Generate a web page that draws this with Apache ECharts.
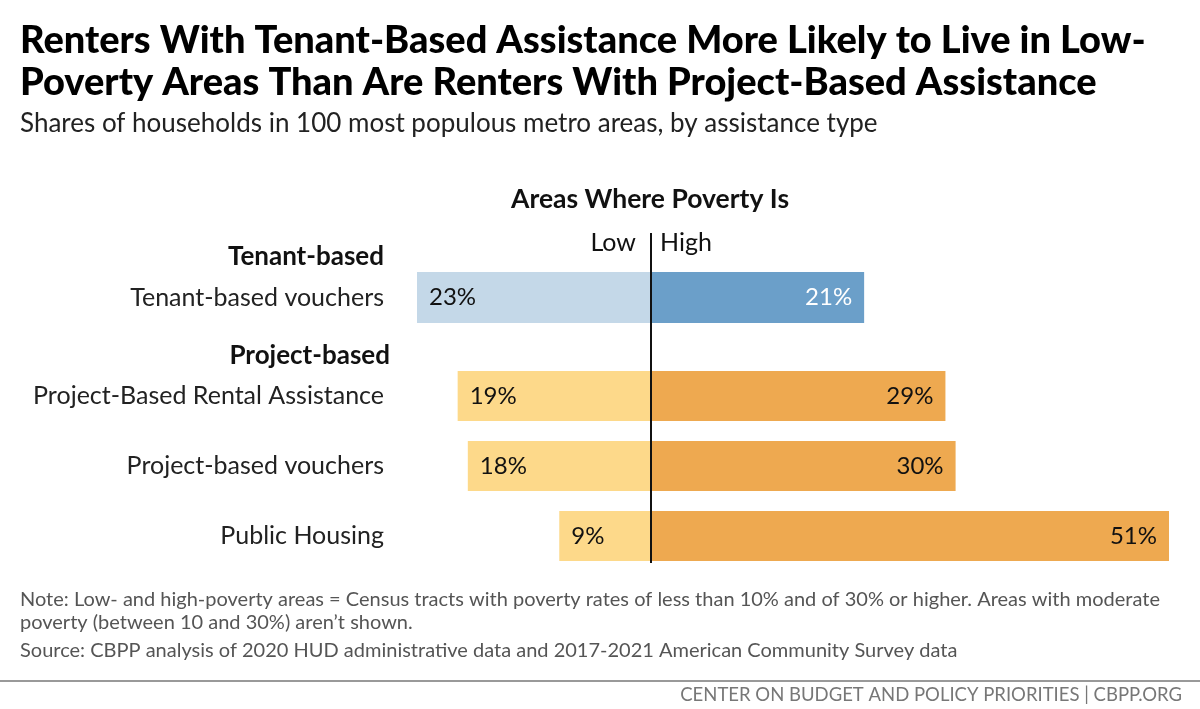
<!DOCTYPE html><html><head><meta charset="utf-8">
<script src="https://cdn.jsdelivr.net/npm/echarts@6/dist/echarts.min.js"></script>
<style>body{margin:0;background:#fff}#c{width:1200px;height:709px}</style></head><body><div id="c"></div>
<script>
const tenantCats=["Tenant-based vouchers"];
const tenantLow=[23], tenantHigh=[21];
const projCats=["Project-Based Rental Assistance","Project-based vouchers","Public Housing"];
const projLow=[19,18,9], projHigh=[29,30,51];
const F='Lato, "Open Sans", sans-serif';
const ch=echarts.init(document.getElementById('c'));
const xa=(i)=>({type:'value',gridIndex:i,min:-23,max:51,show:false});
const ya=(i,d)=>({type:'category',gridIndex:i,data:d,inverse:true,axisLine:{show:false},axisTick:{show:false},
  axisLabel:{margin:33,fontSize:25,color:'#222',fontFamily:F}});
const lab=(pos,col)=>({show:true,position:pos,fontSize:24,color:col,fontFamily:F,distance:12,formatter:p=>Math.abs(p.value)+'%'});
ch.setOption({
 animation:false,
 grid:[{left:417,width:752,top:272,height:51},{left:417,width:752,top:361,height:210}],
 xAxis:[xa(0),xa(1)], yAxis:[ya(0,tenantCats),ya(1,projCats)],
 series:[
  {type:'bar',xAxisIndex:0,yAxisIndex:0,stack:'a',barWidth:51,data:tenantLow.map(v=>-v),itemStyle:{color:'#c4d8e8'},label:lab('insideLeft','#111')},
  {type:'bar',xAxisIndex:0,yAxisIndex:0,stack:'a',barWidth:51,data:tenantHigh,itemStyle:{color:'#6b9fc9'},label:lab('insideRight','#fff')},
  {type:'bar',xAxisIndex:1,yAxisIndex:1,stack:'b',barWidth:50,data:projLow.map(v=>-v),itemStyle:{color:'#fdd98a'},label:lab('insideLeft','#111')},
  {type:'bar',xAxisIndex:1,yAxisIndex:1,stack:'b',barWidth:50,data:projHigh,itemStyle:{color:'#eea950'},label:lab('insideRight','#111')}
 ],
 graphic:[
  {type:'text',left:20,top:20,style:{text:'Renters With Tenant-Based Assistance More Likely to Live in Low-\nPoverty Areas Than Are Renters With Project-Based Assistance',font:'900 38px '+F,fill:'#000',lineHeight:42}},
  {type:'text',left:20,top:111,style:{text:'Shares of households in 100 most populous metro areas, by assistance type',font:'26px '+F,fill:'#222'}},
  {type:'text',left:511,top:186,style:{text:'Areas Where Poverty Is',font:'bold 26.5px '+F,fill:'#111'}},
  {type:'text',right:564,top:230,style:{text:'Low',font:'25px '+F,fill:'#111'}},
  {type:'text',left:660,top:230,style:{text:'High',font:'25px '+F,fill:'#111'}},
  {type:'text',right:816,top:244,style:{text:'Tenant-based',font:'bold 26px '+F,fill:'#111'}},
  {type:'text',right:810,top:343,style:{text:'Project-based',font:'bold 26px '+F,fill:'#111'}},
  {type:'line',z:100,shape:{x1:651,y1:233,x2:651,y2:563},style:{stroke:'#111',lineWidth:2}},
  {type:'text',left:20,top:588,style:{text:'Note: Low- and high-poverty areas = Census tracts with poverty rates of less than 10% and of 30% or higher. Areas with moderate\npoverty (between 10 and 30%) aren’t shown.',font:'20px '+F,fill:'#555',lineHeight:23}},
  {type:'text',left:20,top:641,style:{text:'Source: CBPP analysis of 2020 HUD administrative data and 2017-2021 American Community Survey data',font:'20px '+F,fill:'#555'}},
  {type:'line',shape:{x1:0,y1:681,x2:1200,y2:681},style:{stroke:'#777',lineWidth:1.5}},
  {type:'text',right:18,top:686,style:{text:'CENTER ON BUDGET AND POLICY PRIORITIES | CBPP.ORG',font:'18.5px '+F,fill:'#777'}}
 ]
});
</script></body></html>
